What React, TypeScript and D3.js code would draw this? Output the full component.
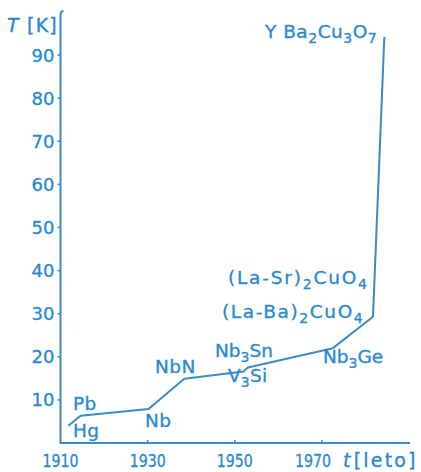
import React from "react";
import * as d3 from "d3";

// ---- data ----
const years = [1911.8, 1914.6, 1930.2, 1938.4, 1952.0, 1953.0, 1972.5, 1981.7, 1984.3];
const tcValues = [4.0, 6.3, 7.9, 14.9, 16.6, 17.5, 22.0, 29.3, 94.2];
const yTicks = [10, 20, 30, 40, 50, 60, 70, 80, 90];
const xTicks = [1910, 1930, 1950, 1970];
// material labels: segments, "_" prefix = subscript
const materialNames = [
  ["Hg"],
  ["Pb"],
  ["Nb"],
  ["NbN"],
  ["V", "_3", "Si"],
  ["Nb", "_3", "Sn"],
  ["Nb", "_3", "Ge"],
  ["(La-Ba)", "_2", "CuO", "_4"],
  ["(La-Sr)", "_2", "CuO", "_4"],
  ["Y Ba", "_2", "Cu", "_3", "O", "_7"],
];
const materialYears = [1911, 1913, 1930, 1938, 1953, 1954, 1973, 1986, 1986, 1987];
const materialTc = [4.2, 7.2, 9.2, 15, 17, 18, 23, 30, 36, 92];

// layout (pixel positions of label text: left x, baseline y, letter spacing)
const labelPos: [number, number, number][] = [
  [73, 437, 0.4],
  [73, 410, 0.4],
  [145, 427, 0.4],
  [155, 373, 0.4],
  [228, 382, 0.2],
  [215, 357, 0],
  [323, 363, 0],
  [222, 318, 1.6],
  [228, 284, 1.8],
  [265, 38, 0.5],
];

const W = 421;
const H = 472;
const COL = "#2a8ad2";
const LINE = "#3a8bc9";

export default function App() {
  const x = d3.scaleLinear().domain([1910, 1970]).range([60.5, 322]);
  const y = d3.scaleLinear().domain([0, 90]).range([443, 55]);
  const line = d3
    .line<number>()
    .x((_, i) => x(years[i]))
    .y((d) => y(d));
  const pathD = line(tcValues) || "";
  const x0 = x(1910);
  const y0 = y(0);
  const textStroke = { stroke: COL, strokeWidth: 0.35 };

  return (
    <svg
      width={W}
      height={H}
      style={{ position: "absolute", left: 0, top: 0, background: "#fff" }}
      fontFamily="DejaVu Sans, sans-serif"
    >
      {/* axes */}
      <path d={`M${x0 + 3},11 Q${x0},11 ${x0},15 L${x0},${y0} L410,${y0}`} fill="none" stroke={LINE} strokeWidth={2} />
      {yTicks.map((t) => (
        <g key={t}>
          <line x1={x0 - 3} x2={x0} y1={y(t)} y2={y(t)} stroke={LINE} strokeWidth={1.5} />
          <text x={x0 - 6} y={y(t) + 6.5} textAnchor="end" fontSize={18} fill={COL} {...textStroke}>
            {t}
          </text>
        </g>
      ))}
      {xTicks.map((t, i) => (
        <g key={t}>
          {i > 0 && <line x1={x(t)} x2={x(t)} y1={y0 - 3} y2={y0} stroke={LINE} strokeWidth={1.5} />}
          <text
            x={i === 3 ? x(t) - 9 : x(t)}
            y={467}
            textAnchor="middle"
            fontSize={18}
            fill={COL}
            textLength={36}
            lengthAdjust="spacingAndGlyphs"
            {...textStroke}
          >
            {t}
          </text>
        </g>
      ))}
      {/* axis titles */}
      <text x={7} y={32} fontSize={19} fill={COL} letterSpacing={1.2} {...textStroke}>
        <tspan fontStyle="italic">T</tspan>
        <tspan> [K]</tspan>
      </text>
      <text x={343} y={467} fontSize={19} fill={COL} letterSpacing={2.2} {...textStroke}>
        <tspan fontStyle="italic">t</tspan>
        <tspan dx={1}>[leto]</tspan>
      </text>

      {/* data line */}
      <path d={pathD} fill="none" stroke={LINE} strokeWidth={2} strokeLinejoin="round" />

      {/* labels */}
      {materialNames.map((segs, i) => (
        <text
          key={i}
          x={labelPos[i][0]}
          y={labelPos[i][1]}
          fontSize={18.5}
          fill={COL}
          letterSpacing={labelPos[i][2]}
          data-year={materialYears[i]}
          data-tc={materialTc[i]}
          {...textStroke}
        >
          {segs.map((s, j) =>
            s.startsWith("_") ? (
              <tspan key={j} fontSize={14} dy={5}>
                {s.slice(1)}
              </tspan>
            ) : (
              <tspan key={j} dy={j > 0 ? -5 : 0}>
                {s}
              </tspan>
            )
          )}
        </text>
      ))}
    </svg>
  );
}
